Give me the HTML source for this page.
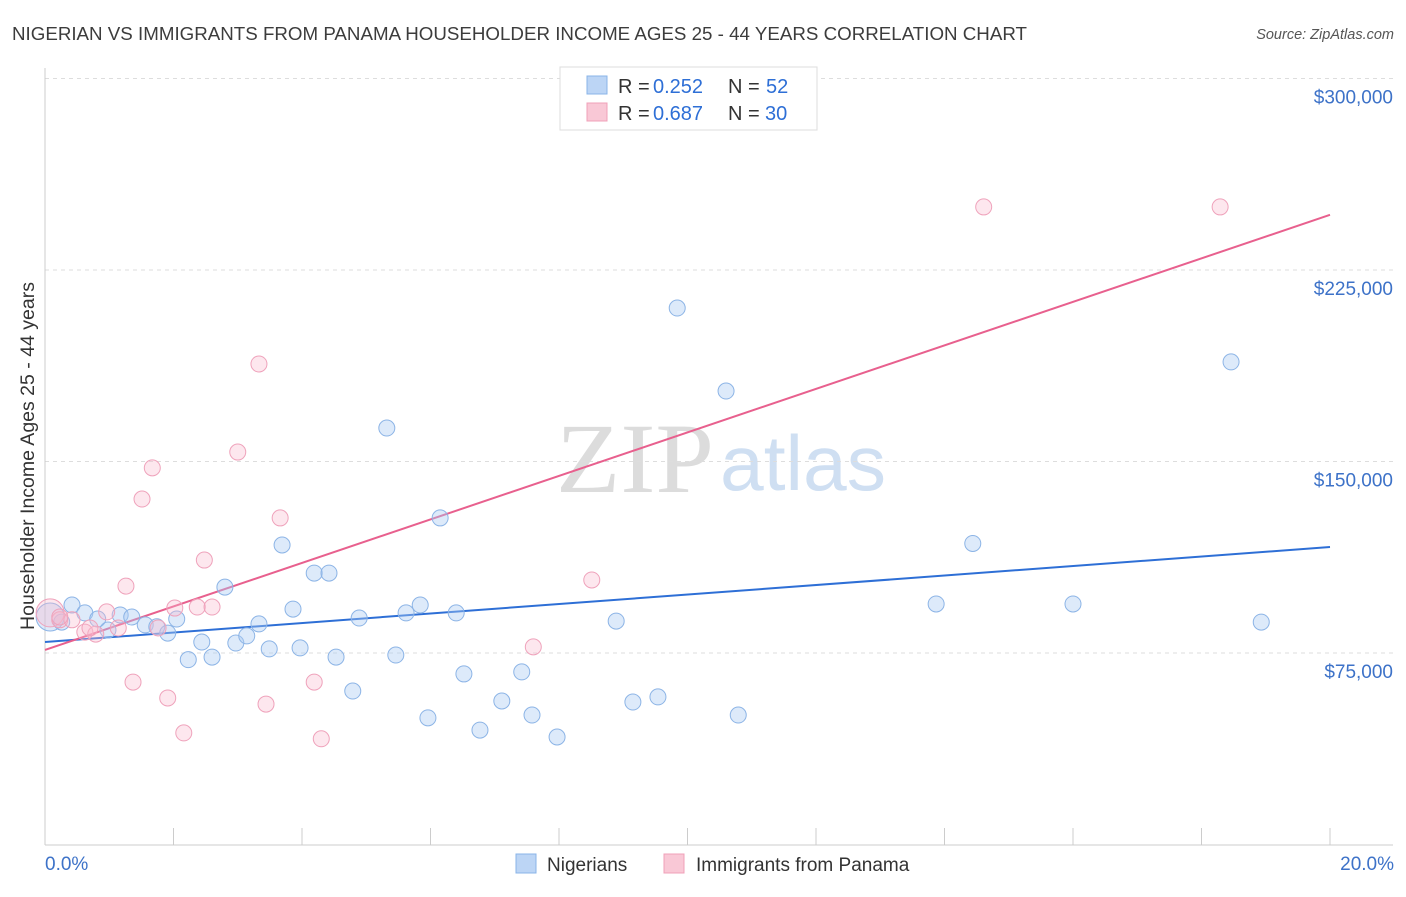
<!DOCTYPE html>
<html><head><meta charset="utf-8"><style>
body{margin:0;background:#fff;font-family:"Liberation Sans",sans-serif;}
svg text{font-family:"Liberation Sans",sans-serif;}
</style></head><body>
<svg width="1406" height="892" id="chart">
<text x="12" y="40" font-size="18.6" fill="#3c3c3c" textLength="1015" lengthAdjust="spacingAndGlyphs">NIGERIAN VS IMMIGRANTS FROM PANAMA HOUSEHOLDER INCOME AGES 25 - 44 YEARS CORRELATION CHART</text>
<text x="1394" y="39" font-size="14.5" fill="#555" font-style="italic" text-anchor="end">Source: ZipAtlas.com</text>
<text x="714" y="492" font-size="100" fill="#dcdcdc" text-anchor="end" font-family="Liberation Serif" style="font-family:'Liberation Serif',serif" textLength="158" lengthAdjust="spacingAndGlyphs">ZIP</text>
<text x="720" y="490" font-size="78" fill="#cfdff2" textLength="166" lengthAdjust="spacingAndGlyphs">atlas</text>
<g id="grid"></g><g id="axes"></g><g id="lines"></g><g id="pts"></g>
<text transform="translate(34,456) rotate(-90)" font-size="19.5" fill="#333" text-anchor="middle">Householder Income Ages 25 - 44 years</text>
<text x="45" y="870" font-size="19" fill="#3d72c8">0.0%</text>
<text x="1394" y="870" font-size="19" fill="#3d72c8" text-anchor="end">20.0%</text>
<g>
<rect x="560" y="67" width="257" height="63" fill="#fff" stroke="#ddd"/>
<rect x="587" y="76" width="20" height="18" fill="#bcd5f5" stroke="#8ab4e8"/>
<rect x="587" y="103" width="20" height="18" fill="#f9c8d6" stroke="#f0a0b8"/>
<text x="618" y="93" font-size="20" fill="#333">R =</text>
<text x="653" y="93" font-size="20" fill="#2e6fd6">0.252</text>
<text x="728" y="93" font-size="20" fill="#333">N =</text>
<text x="766" y="93" font-size="20" fill="#2e6fd6">52</text>
<text x="618" y="120" font-size="20" fill="#333">R =</text>
<text x="653" y="120" font-size="20" fill="#2e6fd6">0.687</text>
<text x="728" y="120" font-size="20" fill="#333">N =</text>
<text x="765" y="120" font-size="20" fill="#2e6fd6">30</text>
</g>
<g>
<rect x="516" y="854" width="20" height="19" fill="#bcd5f5" stroke="#8ab4e8"/>
<text x="547" y="871" font-size="19" fill="#333">Nigerians</text>
<rect x="664" y="854" width="20" height="19" fill="#f9c8d6" stroke="#f0a0b8"/>
<text x="696" y="871" font-size="19" fill="#333">Immigrants from Panama</text>
</g>
</svg>
<script>
const yTicks=[75000,150000,225000,300000];
const yTickLabels=["$75,000","$150,000","$225,000","$300,000"];
const blueX=[0.08,0.26,0.42,0.62,0.82,0.98,1.17,1.35,1.56,1.74,1.91,2.05,2.23,2.44,2.6,2.8,2.97,3.14,3.33,3.49,3.69,3.86,3.97,4.19,4.42,4.53,4.79,4.89,5.32,5.46,5.62,5.84,5.96,6.15,6.4,6.52,6.77,7.11,7.42,7.58,7.97,8.89,9.15,9.54,9.84,10.6,10.79,13.87,14.44,16.0,18.46,18.93];
const blueY=[89.1,87.1,93.8,90.7,88.3,84.0,89.9,89.1,86.0,85.3,82.8,88.3,72.4,79.3,73.4,100.8,78.9,81.7,86.4,76.6,117.3,92.2,77.0,106.3,106.3,73.4,60.1,88.7,163.1,74.2,90.7,93.8,49.6,127.9,90.7,66.8,44.8,56.2,67.6,50.7,42.1,87.5,55.8,57.8,210.1,177.6,50.7,94.2,117.9,94.2,189.0,87.1];
const pinkX=[0.08,0.23,0.42,0.62,0.79,0.96,1.14,1.26,1.37,1.51,1.67,1.76,1.91,2.02,2.16,2.37,2.48,2.6,3.0,3.33,3.44,3.66,4.19,4.3,7.6,8.51,14.61,18.29,0.23,0.7];
const pinkY=[90.7,88.0,88.0,83.2,82.4,91.1,84.8,101.2,63.6,135.3,147.5,84.8,57.4,92.6,43.7,93.0,111.4,93.0,153.7,188.2,55.0,127.9,63.6,41.4,77.4,103.6,249.7,249.7,89.1,84.8];
const blueLine=[79.3,116.5];
const pinkLine=[76.2,246.6];
const NS="http://www.w3.org/2000/svg";
const sx=v=>45+v*64.25, sy=v=>844.5-v/75000*191.5, syk=v=>sy(v*1000);
function mk(t,a,p){const e=document.createElementNS(NS,t);for(const k in a)e.setAttribute(k,a[k]);document.getElementById(p).appendChild(e);return e;}
yTicks.forEach((t,i)=>{
 const l=mk('line',{x1:45,x2:1393,y1:sy(t),y2:sy(t),stroke:'#ddd','stroke-dasharray':'4,4'},'grid');
 
 
 const tx=mk('text',{x:1393,y:sy(t)+25,'font-size':19,fill:'#3d72c8','text-anchor':'end'},'grid');
 tx.textContent=yTickLabels[i];
 
 
});
const xa=mk('line',{x1:45,x2:1393,y1:845,y2:845,stroke:'#ccc'},'axes');


const ya=mk('line',{x1:45,x2:45,y1:68,y2:845,stroke:'#ccc'},'axes');


for(let i=0;i<=10;i++){const t=mk('line',{x1:sx(i*2),x2:sx(i*2),y1:828,y2:845,stroke:'#ccc'},'axes');
 
 }
const bl=mk('line',{x1:sx(0),x2:sx(20),y1:syk(blueLine[0]),y2:syk(blueLine[1]),stroke:'#2e6fd6','stroke-width':2},'lines');


const pl=mk('line',{x1:sx(0),x2:sx(20),y1:syk(pinkLine[0]),y2:syk(pinkLine[1]),stroke:'#e8608e','stroke-width':2},'lines');


function pts(X,Y,fill,stroke,name){X.forEach((x,i)=>{
 const c=mk('circle',{cx:sx(x),cy:syk(Y[i]),r:i==0?14:8,fill:fill,stroke:stroke,'stroke-width':1},'pts');
 
 
});}
pts(blueX,blueY,'rgba(170,202,242,0.4)','#8cb4e6','nigerians-point');
pts(pinkX,pinkY,'rgba(248,186,206,0.35)','#efa2bb','panama-point');
</script>
</body></html>
